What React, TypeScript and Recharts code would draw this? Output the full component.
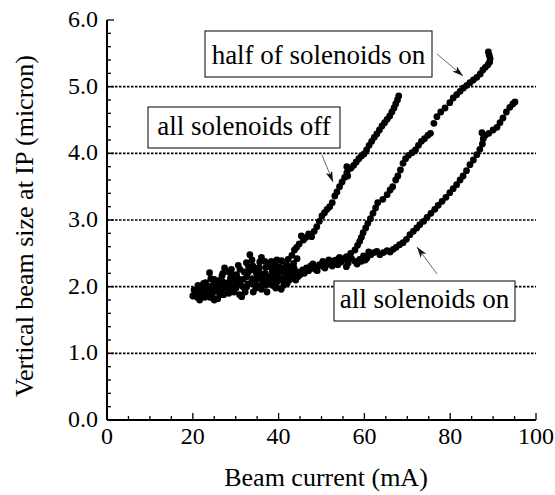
import { ReferenceLine, Scatter, ScatterChart, XAxis, YAxis } from 'recharts'

// beam size (micron) vs beam current (mA)
const offPoints: [number, number][] = [
  [20.0, 1.86], [20.8, 1.94], [21.5, 1.88], [22.3, 1.97], [23.0, 2.06], [23.9, 2.21], [24.5, 2.02],
  [25.2, 1.93], [26.0, 2.09], [26.8, 2.16], [27.4, 2.28], [28.0, 2.05], [28.8, 2.13], [29.5, 1.99],
  [30.2, 2.18], [31.0, 2.26], [31.8, 2.11], [32.5, 2.36], [33.3, 2.48], [34.0, 2.31], [34.8, 2.21],
  [35.6, 2.37], [36.3, 2.16], [37.0, 2.29], [37.8, 2.06], [38.5, 2.23], [39.2, 2.33], [40.0, 2.19],
  [40.7, 2.39], [41.4, 2.26], [42.2, 2.41],
  [21.2, 2.02], [22.8, 1.9], [24.2, 2.12], [25.6, 2.0], [27.0, 2.07], [28.4, 2.22], [29.9, 2.08],
  [30.6, 2.32], [32.0, 2.22], [32.9, 2.04], [33.8, 2.4], [35.2, 2.28], [36.0, 2.44], [36.8, 2.38],
  [38.1, 2.33], [39.0, 2.12], [39.6, 2.4], [41.0, 2.1], [41.8, 2.33], [42.6, 2.3], [43.5, 2.35],
  [44.3, 2.42],
  [43.1, 2.47], [43.7, 2.55], [44.2, 2.59], [44.8, 2.64], [45.3, 2.76], [45.8, 2.7], [46.4, 2.74],
  [47.0, 2.79], [47.7, 2.75], [48.3, 2.83], [48.9, 2.9], [49.5, 2.98], [50.1, 3.06], [50.7, 3.11],
  [51.3, 3.16], [51.9, 3.2], [52.5, 3.26], [53.1, 3.36], [53.6, 3.42], [54.2, 3.5], [54.8, 3.57],
  [55.4, 3.64], [55.9, 3.71], [56.1, 3.66], [55.9, 3.8], [56.3, 3.76], [56.9, 3.78], [57.5, 3.82],
  [58.1, 3.87], [58.7, 3.92], [59.3, 3.96], [59.9, 3.99], [60.5, 4.05], [61.1, 4.12], [61.7, 4.18],
  [62.3, 4.24], [62.9, 4.29], [63.5, 4.35], [64.1, 4.41], [64.7, 4.46], [65.3, 4.51], [65.9, 4.56],
  [66.4, 4.62], [66.9, 4.68], [67.3, 4.74], [67.7, 4.8], [68.0, 4.86],
]

const halfPoints: [number, number][] = [
  [21.0, 1.84], [22.0, 1.9], [22.8, 1.84], [23.6, 1.96], [24.4, 1.9], [25.0, 2.11], [25.8, 1.82],
  [26.6, 1.95], [27.5, 2.02], [28.4, 1.9], [29.2, 2.18], [30.0, 2.05], [30.9, 1.88], [31.7, 2.0],
  [32.6, 2.15], [33.5, 2.05], [34.3, 2.25], [35.2, 2.12], [36.0, 1.96], [36.9, 2.2], [37.8, 2.3],
  [38.6, 2.1], [39.5, 2.0], [40.3, 2.22], [41.2, 2.12], [42.0, 2.05], [42.8, 2.2], [43.6, 2.28],
  [44.5, 2.15], [45.5, 2.21], [46.5, 2.25], [47.5, 2.29], [48.5, 2.26], [49.5, 2.33], [50.5, 2.3],
  [51.5, 2.35], [52.5, 2.37],
  [20.3, 1.95], [21.6, 1.8], [23.3, 2.0], [24.7, 1.83], [26.2, 2.02], [27.2, 1.88], [28.9, 2.0],
  [29.7, 2.1], [31.2, 2.1], [32.2, 1.92], [33.0, 2.3], [34.6, 2.05], [35.7, 2.2], [36.6, 2.06],
  [37.5, 2.12], [38.3, 2.38], [39.1, 2.2], [40.0, 2.12], [40.8, 2.28], [41.9, 2.22], [43.0, 2.12],
  [44.0, 2.2],
  [53.5, 2.4], [54.6, 2.42], [55.8, 2.45], [56.8, 2.5], [57.8, 2.55], [58.4, 2.62], [58.9, 2.68],
  [59.3, 2.74], [59.7, 2.81], [60.3, 2.88], [60.8, 2.95], [61.4, 3.02], [62.0, 3.1], [62.6, 3.18],
  [63.1, 3.26], [64.3, 3.31], [65.3, 3.38], [66.0, 3.45], [66.6, 3.5], [67.3, 3.6], [67.8, 3.66],
  [68.4, 3.75], [69.0, 3.85], [69.6, 3.92], [70.3, 3.97], [71.1, 4.01], [71.9, 4.05], [72.6, 4.12],
  [73.3, 4.18], [74.0, 4.22], [74.8, 4.27], [75.4, 4.3], [76.2, 4.45], [76.9, 4.55], [77.8, 4.62],
  [78.8, 4.68], [79.9, 4.76], [80.7, 4.83], [81.5, 4.88], [82.3, 4.93], [83.1, 4.98], [83.9, 5.02],
  [84.6, 5.06], [85.4, 5.1], [86.2, 5.14], [87.0, 5.19], [87.6, 5.25], [88.2, 5.29], [88.8, 5.33],
  [89.2, 5.37], [89.3, 5.42], [89.1, 5.47], [88.9, 5.52],
]

const onPoints: [number, number][] = [
  [20.5, 1.9], [21.8, 1.98], [23.2, 1.88], [24.0, 1.84], [24.8, 1.98], [25.5, 2.05], [26.3, 1.88],
  [27.0, 2.2], [27.8, 2.0], [28.6, 2.08], [29.6, 1.92], [30.5, 2.12], [31.4, 1.85], [32.2, 1.98],
  [33.0, 2.22], [33.9, 2.12], [34.7, 1.98], [35.5, 2.28], [36.4, 2.08], [37.3, 1.92], [38.0, 2.15],
  [38.9, 2.25], [39.8, 2.08], [40.6, 1.96], [41.6, 2.18], [42.5, 2.1], [43.4, 2.15], [44.4, 2.22],
  [22.5, 2.05], [25.0, 1.8], [26.8, 1.98], [28.1, 1.94], [29.0, 2.26], [30.1, 1.98], [31.0, 2.04],
  [32.6, 2.0], [34.1, 1.92], [35.0, 2.15], [35.9, 2.02], [37.0, 2.02], [38.5, 2.02], [39.3, 1.98],
  [40.2, 2.3], [41.2, 2.02], [42.0, 2.2], [43.0, 2.24], [44.0, 2.1], [45.0, 2.18],
  [45.6, 2.25], [46.5, 2.28], [47.5, 2.31], [48.5, 2.27], [49.6, 2.32], [50.3, 2.38], [51.2, 2.33],
  [52.0, 2.36], [53.0, 2.39], [53.8, 2.33], [54.6, 2.37], [55.4, 2.41], [56.2, 2.35], [57.0, 2.42],
  [57.8, 2.38], [58.9, 2.41], [59.8, 2.46], [60.6, 2.43], [61.5, 2.48], [62.2, 2.51], [62.9, 2.53],
  [46.0, 2.2], [47.0, 2.24], [48.0, 2.34], [49.0, 2.24], [50.8, 2.28], [51.7, 2.4], [52.5, 2.31],
  [54.2, 2.44], [55.8, 2.3], [56.6, 2.44], [58.3, 2.34], [59.3, 2.38], [60.2, 2.4], [61.0, 2.52],
  [63.6, 2.48], [64.4, 2.51], [65.3, 2.54], [66.0, 2.52], [66.7, 2.56], [67.4, 2.59], [68.2, 2.63],
  [69.0, 2.66], [69.8, 2.71], [70.6, 2.78], [71.4, 2.83], [72.2, 2.88], [72.9, 2.93], [73.8, 2.98],
  [74.6, 3.04], [75.5, 3.1], [76.4, 3.16], [77.2, 3.22], [78.1, 3.28], [79.0, 3.34], [79.9, 3.41],
  [80.7, 3.47], [81.5, 3.53], [82.3, 3.6], [83.0, 3.66], [83.8, 3.74], [84.6, 3.83], [85.4, 3.9],
  [86.2, 3.98], [86.9, 4.06], [87.5, 4.14], [87.7, 4.22], [87.4, 4.31], [88.2, 4.27], [89.0, 4.3],
  [90.0, 4.35], [90.9, 4.39], [91.6, 4.46], [92.3, 4.53], [93.1, 4.62], [93.9, 4.69], [94.6, 4.74],
  [95.1, 4.77],
]

const xTicks = [0, 5, 10, 15, 20, 25, 30, 35, 40, 45, 50, 55, 60, 65, 70, 75, 80, 85, 90, 95, 100]
const yTicks = [
  0, 0.2, 0.4, 0.6, 0.8, 1, 1.2, 1.4, 1.6, 1.8, 2, 2.2, 2.4, 2.6, 2.8, 3, 3.2, 3.4, 3.6, 3.8, 4,
  4.2, 4.4, 4.6, 4.8, 5, 5.2, 5.4, 5.6, 5.8, 6,
]
const gridValues = [1, 2, 3, 4, 5]

const FONT = '"Liberation Serif", "Times New Roman", Times, serif'
const toData = (pts: [number, number][]) => pts.map(([x, y]) => ({ x, y }))

const isMajorX = (v: number) => v % 20 === 0
const isMajorY = (v: number) => Math.abs(v - Math.round(v)) < 1e-6

function Dot(props: any) {
  return <circle cx={props.cx} cy={props.cy} r={3.4} fill="#000" />
}

function BottomTick({ x, y, payload }: any) {
  const major = isMajorX(payload.value)
  return (
    <g>
      <line x1={x} x2={x} y1={y} y2={y - (major ? 7 : 4)} stroke="#000" strokeWidth={1.3} />
      {major && (
        <text x={x} y={y + 24} textAnchor="middle" fontSize={24} fontFamily={FONT} fill="#000">
          {payload.value}
        </text>
      )}
    </g>
  )
}

function TopTick({ x, y, payload }: any) {
  const major = isMajorX(payload.value)
  return <line x1={x} x2={x} y1={y} y2={y + (major ? 7 : 4)} stroke="#000" strokeWidth={1.3} />
}

function LeftTick({ x, y, payload }: any) {
  const major = isMajorY(payload.value)
  return (
    <g>
      <line x1={x} x2={x + (major ? 7 : 4)} y1={y} y2={y} stroke="#000" strokeWidth={1.3} />
      {major && (
        <text x={x - 9} y={y + 7} textAnchor="end" fontSize={24} fontFamily={FONT} fill="#000">
          {payload.value.toFixed(1)}
        </text>
      )}
    </g>
  )
}

function RightTick({ x, y, payload }: any) {
  const major = isMajorY(payload.value)
  return <line x1={x} x2={x - (major ? 7 : 4)} y1={y} y2={y} stroke="#000" strokeWidth={1.3} />
}

const axisLine = { stroke: '#000', strokeWidth: 2 }

function Callout({ x, y, w, h, text }: { x: number; y: number; w: number; h: number; text: string }) {
  return (
    <g>
      <rect x={x} y={y} width={w} height={h} fill="#fff" stroke="#000" strokeWidth={1} />
      <text x={x + w / 2} y={y + h - 13} textAnchor="middle" fontSize={27} fontFamily={FONT} fill="#000">
        {text}
      </text>
    </g>
  )
}

export default function App() {
  return (
    <div style={{ position: 'absolute', left: 0, top: 0, width: 555, height: 495, background: '#fff' }}>
      <ScatterChart width={555} height={495} margin={{ top: 20, right: 19, bottom: 0, left: 0 }}>
        <XAxis
          xAxisId="b"
          dataKey="x"
          type="number"
          domain={[0, 100]}
          ticks={xTicks}
          interval={0}
          height={75}
          tickSize={0}
          tickMargin={0}
          tickLine={false}
          axisLine={axisLine}
          tick={<BottomTick />}
        />
        <XAxis
          xAxisId="t"
          orientation="top"
          type="number"
          domain={[0, 100]}
          ticks={xTicks}
          interval={0}
          height={0}
          tickSize={0}
          tickMargin={0}
          tickLine={false}
          axisLine={axisLine}
          tick={<TopTick />}
        />
        <YAxis
          yAxisId="l"
          dataKey="y"
          type="number"
          domain={[0, 6]}
          ticks={yTicks}
          interval={0}
          width={107}
          tickSize={0}
          tickMargin={0}
          tickLine={false}
          axisLine={axisLine}
          tick={<LeftTick />}
        />
        <YAxis
          yAxisId="r"
          orientation="right"
          type="number"
          domain={[0, 6]}
          ticks={yTicks}
          interval={0}
          width={0}
          tickSize={0}
          tickMargin={0}
          tickLine={false}
          axisLine={axisLine}
          tick={<RightTick />}
        />
        {gridValues.map((v) => (
          <ReferenceLine
            key={v}
            xAxisId="b"
            yAxisId="l"
            y={v}
            stroke="#000"
            strokeWidth={1.7}
            strokeDasharray="2.5 1.5"
          />
        ))}
        <Scatter name="all solenoids off" data={toData(offPoints)} xAxisId="b" yAxisId="l" shape={Dot} isAnimationActive={false} />
        <Scatter name="half of solenoids on" data={toData(halfPoints)} xAxisId="b" yAxisId="l" shape={Dot} isAnimationActive={false} />
        <Scatter name="all solenoids on" data={toData(onPoints)} xAxisId="b" yAxisId="l" shape={Dot} isAnimationActive={false} />
      </ScatterChart>
      <svg width={555} height={495} style={{ position: 'absolute', left: 0, top: 0, pointerEvents: 'none' }}>
        <defs>
          <marker id="head" viewBox="0 0 11 7" refX={11} refY={3.5} markerWidth={11} markerHeight={7} markerUnits="userSpaceOnUse" orient="auto">
            <path d="M0,0 L11,3.5 L0,7 L3,3.5 Z" fill="#111" />
          </marker>
        </defs>
        <Callout x={205} y={31} w={227} h={46} text="half of solenoids on" />
        <Callout x={148} y={107} w={192} h={41} text="all solenoids off" />
        <Callout x={334} y={281} w={181} h={40} text="all solenoids on" />
        <line x1={437} y1={54} x2={463} y2={76} stroke="#444" strokeWidth={0.8} markerEnd="url(#head)" />
        <line x1={322} y1={155} x2={333} y2={182} stroke="#444" strokeWidth={0.8} markerEnd="url(#head)" />
        <line x1={437} y1={274} x2={417} y2={247} stroke="#444" strokeWidth={0.8} markerEnd="url(#head)" />
        <text x={326} y={486} textAnchor="middle" fontSize={26} fontFamily={FONT} fill="#000">
          Beam current (mA)
        </text>
        <text x={33} y={226} textAnchor="middle" fontSize={26} fontFamily={FONT} fill="#000" transform="rotate(-90 33 226)">
          Vertical beam size at IP (micron)
        </text>
      </svg>
    </div>
  )
}
